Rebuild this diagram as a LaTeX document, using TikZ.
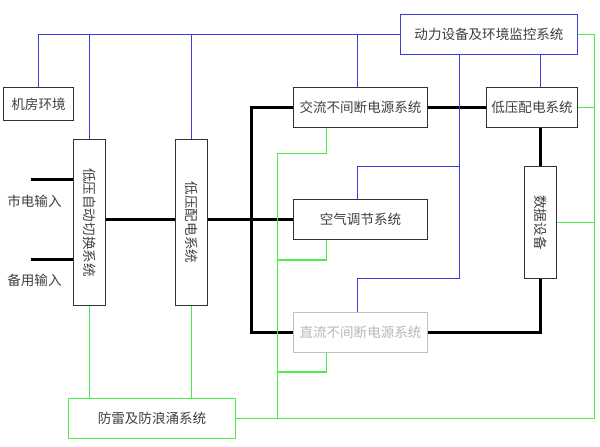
\documentclass[tikz,border=0pt]{standalone}
\usepackage{fontspec}
\usepackage{graphicx}
\newfontfamily\cjk{Noto Sans CJK SC}
\definecolor{watch}{RGB}{60,60,225}
\definecolor{surge}{RGB}{70,240,70}
\newcommand{\downtext}[1]{\rotatebox{-90}{#1}}
\begin{document}
\begin{tikzpicture}[
    x = 1bp, y = -1bp,
    %thick,
    box/.style = {draw = black!80, line width = 1bp, fill = white, text = black!75,
                  inner sep = 0bp, font = \cjk\fontsize{13.6}{15}\selectfont},
    hbox/.style = {box, minimum width = 134bp, minimum height = 40bp},
    vbox/.style = {box, minimum width = 32bp, minimum height = 166bp},
    dimbox/.style = {hbox, draw = black!25, text = black!28},
    surgebox/.style = {hbox, draw = surge, line width = 1.5bp, minimum width = 167bp, minimum height = 40bp},
    plain/.style = {font = \cjk\fontsize{13.6}{15}\selectfont, text = black!75, inner sep = 0bp},
    power/.style = {line width = 3bp},
    monitor/.style = {draw = watch, line width = 1.4bp},
    ground/.style = {draw = surge, line width = 1.5bp}
  ]
  \useasboundingbox (-0.5,-0.5) rectangle (599.5,446.5);

  % Boxes
  \node[hbox, draw = watch, line width = 1.4bp, minimum width = 177bp] (mon) at (488.5,34) {动力设备及环境监控系统};
  \node[hbox, minimum width = 70bp, minimum height = 33bp] (room) at (38,103.5) {机房环境};
  \node[vbox] (ats) at (89,222) {\downtext{低压自动切换系统}};
  \node[vbox] (lvd) at (191,222) {\downtext{低压配电系统}};
  \node[hbox] (acups) at (360,107) {交流不间断电源系统};
  \node[hbox, minimum width = 91bp] (lv) at (531.5,107) {低压配电系统};
  \node[hbox] (air) at (360,219) {空气调节系统};
  \node[dimbox] (dcups) at (360,332) {直流不间断电源系统};
  \node[vbox, minimum width = 32bp, minimum height = 112bp] (data) at (540,222) {\downtext{数据设备}};
  \node[surgebox] (spd) at (151.5,418) {防雷及防浪涌系统};

  % Inputs
  \node[plain] (mainsin) at (34,201) {市电输入};
  \node[plain] (backin) at (34,280) {备用输入};
  \coordinate (mains) at (30,179);
  \coordinate (backup) at (30,259);
  \coordinate (pbus) at (251,219);
  \coordinate (mtap) at (459,278);
  \coordinate (atap) at (459,166);
  \coordinate (gbus) at (277,153);
  \coordinate (gcorner) at (594,418);

  % Power
  \begin{scope}[power]
    \draw (mains) -- (mains -| ats.west);
    \draw (backup) -- (backup -| ats.west);
    \draw (ats.east |- air.west) -- (lvd.west |- air.west);
    \draw (lvd.east |- air.west) -- (air.west);
    \draw (acups.west) -| (pbus) |- (dcups.west);
    \draw (acups.east) -- (lv.west);
    \draw (data.north |- lv.south) -- (data.north);
    \draw (data.south) |- (dcups.east);
    \fill (pbus) circle (2bp);
  \end{scope}

  % Monitoring
  \draw[monitor] (room.north) |- (mon.west);
  \draw[monitor] (ats.north) -- (ats.north |- mon.west);
  \draw[monitor] (lvd.north) -- (lvd.north |- mon.west);
  \draw[monitor] ([xshift=-3bp]acups.north) -- ([xshift=-3bp]acups.north |- mon.west);
  \draw[monitor] (data.north |- mon.south) -- (data.north |- lv.north);
  \draw[monitor] (mon.south -| mtap) -- (mtap) -| ([xshift=-3bp]dcups.north);
  \draw[monitor] (atap) -| ([xshift=-3bp]air.north);

  % Grounding
  \draw[ground] (mon.east) -| (gcorner) -- (spd.east);
  \draw[ground] (lv.east) -- (lv.east -| gcorner);
  \draw[ground] (data.east) -- (data.east -| gcorner);
  \draw[ground] ([xshift=-34bp]acups.south) |- (gbus) -- (gbus |- spd.east);
  \draw[ground] ([xshift=-34bp]air.south) -- ++(0,20) -- ++(-49,0);
  \draw[ground] ([xshift=-34bp]dcups.south) -- ++(0,19) -- ++(-49,0);
  \draw[ground] (ats.south) -- (ats.south |- spd.north);
  \draw[ground] (lvd.south) -- (lvd.south |- spd.north);
\end{tikzpicture}
\end{document}
